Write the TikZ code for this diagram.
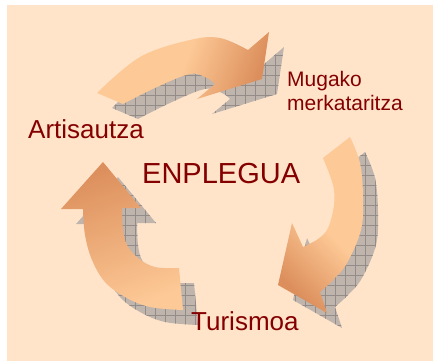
\documentclass[tikz,border=0pt]{standalone}
\usepackage{fontspec}
\setmainfont{Liberation Sans}
\definecolor{bgpeach}{HTML}{FFE4CA}
\definecolor{arrlight}{HTML}{FDC996}
\definecolor{arrdark}{HTML}{DC8F5C}
\definecolor{shadowfill}{HTML}{C0B5AD}
\definecolor{shadowgrid}{HTML}{938C88}
\definecolor{txtred}{HTML}{840000}
\tikzset{
  shadowbase/.style={fill=shadowfill},
  gridlines/.style={draw=shadowgrid, line width=0.4pt},
  lbl/.style={inner sep=0pt, anchor=base west, text=txtred},
}
\def\pathTop{(97,93) plot[smooth,tension=0.6] coordinates{(97,93) (140,57) (190,40) (220,38) (248,50)} -- (269,32) -- (262,79) -- (197,99) -- (215,84) -- plot[smooth,tension=0.6] coordinates{(215,84) (207,78) (190,74) (157,87) (123,104)} -- cycle}
\def\pathRight{(350,137) plot[smooth,tension=0.6] coordinates{(350,137) (360,163) (363,197) (361,230) (347,263) (333,280) (320,292)} -- (327,313) -- (278,285) -- (292,223) -- (303,247) -- plot[smooth,tension=0.6] coordinates{(303,247) (318,239) (328,228) (334,205) (333,185) (323,158)} -- cycle}
\def\pathLeft{(61,209) -- (103,162) -- (141,208) -- (122,208) -- plot[smooth,tension=0.6] coordinates{(122,208) (123,230) (127,245) (138,258) (155,267) (179,268)} -- (183,310) -- plot[smooth,tension=0.6] coordinates{(183,310) (150,307) (125,297) (105,282) (92,260) (85,235) (83,209)} -- cycle}
\begin{document}
\begin{tikzpicture}[x=1pt,y=-1pt]
\useasboundingbox (0,0) rectangle (433,361);
\fill[white] (0,0) rectangle (433,361);
\fill[bgpeach] (7,5) rectangle (433,361);
% shadows
\begin{scope}[shift={(15,15)}]
  \fill[shadowbase] \pathTop;
  \fill[shadowbase] \pathRight;
  \fill[shadowbase] \pathLeft;
  \begin{scope}
    \clip \pathTop;
    \draw[gridlines, step=10pt] (-20,-20) grid (440,380);
  \end{scope}
  \begin{scope}
    \clip \pathRight;
    \draw[gridlines, step=10pt] (-20,-20) grid (440,380);
  \end{scope}
  \begin{scope}
    \clip \pathLeft;
    \draw[gridlines, step=10pt] (-20,-20) grid (440,380);
  \end{scope}
\end{scope}
% arrows
\shade[top color=arrdark, bottom color=arrlight, middle color=arrlight, shading angle=-110] \pathTop;
\shade[top color=arrlight, bottom color=arrdark, middle color=arrlight, shading angle=-45] \pathRight;
\shade[top color=arrdark, bottom color=arrlight, shading angle=20] \pathLeft;
% labels
\node[lbl, font=\fontsize{29}{34}\selectfont] (center) at (142,183) {ENPLEGUA};
\node[lbl, font=\fontsize{26}{30}\selectfont] (art) at (28,138) {Artisautza};
\node[lbl, font=\fontsize{26}{30}\selectfont] (tur) at (191,330) {Turismoa};
\node[lbl, font=\fontsize{21}{24}\selectfont] (mug1) at (287,86) {Mugako};
\node[lbl, font=\fontsize{21}{24}\selectfont] (mug2) at (287,110) {merkataritza};
\end{tikzpicture}
\end{document}
